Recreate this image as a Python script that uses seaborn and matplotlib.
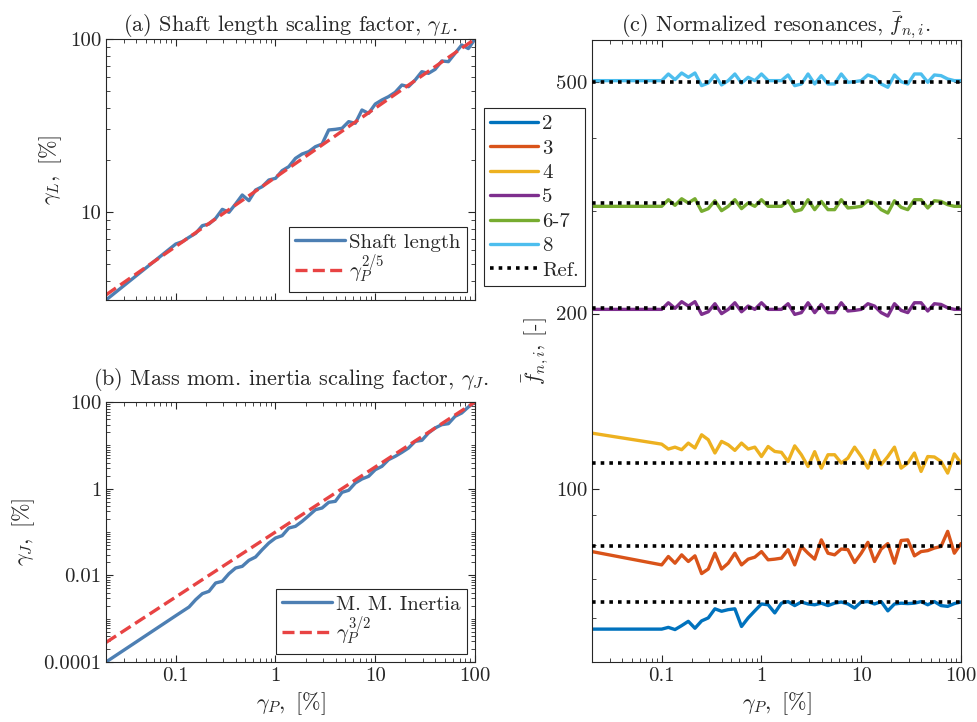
import seaborn as sns
import matplotlib.pyplot as plt
from matplotlib.ticker import FixedLocator, NullFormatter, LogLocator

# power scaling factor gamma_P [%] (shared x for every curve)
gamma_p = [0.02, 0.1, 0.1166, 0.1359, 0.1585, 0.1848, 0.2154, 0.2512, 0.2929, 0.3415, 0.3981,
           0.4642, 0.5412, 0.631, 0.7356, 0.8577, 1.0, 1.166, 1.359, 1.585, 1.848, 2.154,
           2.512, 2.929, 3.415, 3.981, 4.642, 5.412, 6.31, 7.356, 8.577, 10.0, 11.66, 13.59,
           15.85, 18.48, 21.54, 25.12, 29.29, 34.15, 39.81, 46.42, 54.12, 63.1, 73.56, 85.77, 100.0]

# (a) shaft length scaling factor [%]
shaft_length = [3.10, 6.53, 6.74, 7.14, 7.53, 8.34, 8.52, 9.19, 10.36, 9.96, 11.13, 12.54, 11.63,
                13.40, 14.01, 15.31, 15.65, 17.34, 18.28, 20.42, 21.64, 22.33, 23.85, 24.71,
                29.79, 30.05, 30.46, 33.29, 32.56, 38.86, 37.17, 42.08, 44.41, 46.42, 49.18,
                54.20, 53.01, 57.94, 64.72, 63.30, 66.77, 74.61, 73.96, 82.64, 92.32, 88.0, 100.0]

# (b) mass moment of inertia scaling factor [%]
inertia = [0.0001, 0.00117, 0.001476, 0.001858, 0.002745, 0.003776, 0.004276, 0.006658,
           0.007278, 0.01092, 0.01476, 0.01614, 0.02219, 0.02649, 0.03909, 0.05572, 0.07278,
           0.08231, 0.1236, 0.1352, 0.1762, 0.2383, 0.3273, 0.3581, 0.4842, 0.5105, 0.8225,
           0.9162, 1.352, 1.671, 1.926, 2.742, 3.276, 4.668, 5.576, 6.887, 8.675, 12.36, 13.03,
           19.27, 25.12, 29.99, 31.62, 46.68, 55.76, 76.65, 100.0]

# power laws (end points of the straight log-log lines)
law_x = [0.02, 100.0]
law_L = [3.32, 100.0]
law_J = [0.000283, 100.0]

# (c) normalized resonances
modes = ['2', '3', '4', '5', '6-7', '8']
res_2 = [57.4, 57.4, 57.8, 57.3, 58.2, 59.2, 57.6, 59.3, 60.0, 62.2, 61.6, 62.0, 62.2, 58.0, 60.0,
         61.7, 63.4, 63.2, 61.2, 63.6, 64.0, 63.0, 63.9, 63.4, 63.2, 63.6, 63.0, 63.6, 63.9, 63.4,
         62.4, 63.9, 64.0, 63.4, 64.0, 61.7, 63.4, 63.6, 63.5, 63.6, 64.0, 63.2, 64.0, 63.0, 62.8,
         63.5, 63.9]
res_3 = [78.0, 74.0, 76.5, 74.5, 77.0, 75.0, 76.7, 71.5, 72.8, 77.5, 72.8, 74.5, 77.5, 74.0, 75.7,
         76.3, 78.0, 75.5, 75.7, 76.0, 78.6, 74.0, 79.6, 77.5, 75.7, 81.7, 77.5, 77.0, 78.8, 78.6,
         74.7, 77.5, 80.9, 75.0, 78.8, 80.5, 74.5, 81.5, 81.7, 76.7, 78.0, 78.3, 79.1, 79.6, 84.5,
         77.5, 80.5]
res_4 = [124.6, 119.3, 117.0, 117.9, 116.7, 119.8, 117.5, 123.8, 121.4, 115.2, 120.6, 119.0, 116.4,
         119.8, 117.0, 117.9, 113.6, 118.2, 115.9, 115.5, 111.4, 118.5, 114.4, 109.2, 115.8, 108.5,
         114.4, 114.4, 110.7, 112.9, 117.9, 113.6, 108.5, 116.4, 110.0, 113.6, 117.9, 108.5, 110.7,
         115.2, 107.1, 113.6, 113.4, 111.4, 106.4, 114.8, 110.7]
res_5 = [203.3, 203.3, 208.7, 204.1, 209.6, 206.0, 209.6, 199.3, 201.4, 207.9, 199.9, 203.3, 208.7,
         201.4, 206.0, 203.3, 208.7, 203.3, 203.3, 203.3, 207.9, 199.3, 200.7, 208.7, 200.7, 207.3,
         200.7, 200.7, 208.7, 202.0, 202.5, 203.3, 207.9, 206.0, 200.7, 198.0, 207.9, 202.5, 200.7,
         208.7, 208.7, 202.0, 207.9, 207.3, 204.6, 203.3, 203.3]
res_67 = [305.6, 305.6, 313.7, 306.8, 314.9, 309.7, 314.9, 299.6, 302.8, 312.4, 300.4, 305.6, 313.7,
          302.8, 309.7, 305.6, 313.7, 305.6, 305.6, 305.6, 312.4, 299.6, 301.6, 313.7, 301.6, 311.6,
          301.6, 301.6, 313.7, 303.6, 304.4, 305.6, 312.4, 309.7, 301.6, 297.6, 312.4, 304.4, 301.6,
          313.7, 313.7, 303.6, 312.4, 311.6, 307.6, 305.6, 305.6]
res_8 = [502.4, 502.4, 515.8, 504.3, 517.8, 509.1, 517.8, 492.5, 497.7, 513.8, 493.9, 502.4, 515.8,
         497.7, 509.1, 502.4, 515.8, 502.4, 502.4, 502.4, 513.8, 492.5, 495.8, 515.8, 495.8, 512.4,
         495.8, 495.8, 515.8, 499.1, 500.4, 502.4, 513.8, 509.1, 495.8, 489.4, 513.8, 500.4, 495.8,
         515.8, 515.8, 499.1, 513.8, 512.4, 505.7, 502.4, 502.4]
ref_values = [63.9, 79.9, 110.7, 204.1, 309.7, 500.0]

mode_colors = ['#0072BD', '#D95319', '#EDB120', '#7E2F8E', '#77AC30', '#4DBEEE']
blue = '#4d7fb3'
red = '#e84343'
ink = '#262626'

sns.set_theme(style='ticks')
plt.rcParams.update({
    'font.family': 'serif',
    'font.serif': ['cmr10', 'DejaVu Serif'],
    'mathtext.fontset': 'cm',
    'axes.formatter.use_mathtext': True,
    'axes.unicode_minus': False,
    'font.size': 15,
    'axes.edgecolor': ink,
    'axes.linewidth': 0.8,
    'xtick.color': ink,
    'ytick.color': ink,
    'text.color': ink,
    'axes.labelcolor': ink,
})


def style_axis(ax):
    ax.set_xscale('log')
    ax.set_yscale('log')
    ax.tick_params(which='both', direction='in', top=True, right=True, labelsize=15)
    ax.tick_params(which='major', length=5, width=0.8)
    ax.tick_params(which='minor', length=3, width=0.6)
    ax.set_xlim(0.02, 100)
    ax.xaxis.set_major_locator(FixedLocator([0.1, 1, 10, 100]))
    ax.xaxis.set_minor_locator(LogLocator(base=10, subs=range(2, 10), numticks=20))
    ax.xaxis.set_minor_formatter(NullFormatter())
    ax.set_xticklabels(['0.1', '1', '10', '100'])


def legend_box(ax, **kw):
    leg = ax.legend(fancybox=False, framealpha=1, edgecolor=ink, fontsize=15,
                    borderpad=0.3, handletextpad=0.2, **kw)
    leg.get_frame().set_linewidth(0.8)
    return leg


fig = plt.figure(figsize=(9.78, 7.22), dpi=100)

# (a) shaft length
ax1 = fig.add_axes([0.1084, 0.5845, 0.3773, 0.3615])
sns.lineplot(x=gamma_p, y=shaft_length, color=blue, lw=2.4, label='Shaft length', ax=ax1)
sns.lineplot(x=law_x, y=law_L, color=red, lw=2.4, linestyle=(0, (3.6, 1.6)),
             label=r'$\gamma_P^{2/5}$', ax=ax1)
style_axis(ax1)
ax1.set_ylim(3.1, 100)
ax1.yaxis.set_major_locator(FixedLocator([10, 100]))
ax1.set_yticklabels(['10', '100'])
ax1.yaxis.set_minor_locator(LogLocator(base=10, subs=range(2, 10), numticks=20))
ax1.yaxis.set_minor_formatter(NullFormatter())
ax1.tick_params(labelbottom=False)
ax1.set_title(r'(a) Shaft length scaling factor, $\gamma_L$.', fontsize=16, pad=5)
ax1.set_ylabel(r'$\gamma_L,\ [\%]$', fontsize=16)
legend_box(ax1, loc='lower right', handlelength=2.4, labelspacing=0.05, borderaxespad=0.4)

# (b) mass moment of inertia
ax2 = fig.add_axes([0.1084, 0.0831, 0.3773, 0.3601])
sns.lineplot(x=gamma_p, y=inertia, color=blue, lw=2.4, label='M. M. Inertia', ax=ax2)
sns.lineplot(x=law_x, y=law_J, color=red, lw=2.4, linestyle=(0, (3.6, 1.6)),
             label=r'$\gamma_P^{3/2}$', ax=ax2)
style_axis(ax2)
ax2.set_ylim(1e-4, 100)
ax2.yaxis.set_major_locator(FixedLocator([1e-4, 1e-2, 1, 100]))
ax2.set_yticklabels(['0.0001', '0.01', '1', '100'])
ax2.yaxis.set_minor_locator(LogLocator(base=10, subs=range(1, 10), numticks=20))
ax2.yaxis.set_minor_formatter(NullFormatter())
ax2.set_title(r'(b) Mass mom. inertia scaling factor, $\gamma_J$.', fontsize=16, pad=12)
ax2.set_ylabel(r'$\gamma_J,\ [\%]$', fontsize=16)
ax2.set_xlabel(r'$\gamma_P,\ [\%]$', fontsize=16)
legend_box(ax2, loc='lower right', handlelength=2.4, labelspacing=0.05, borderaxespad=0.4)

# (c) normalized resonances
ax3 = fig.add_axes([0.6053, 0.0831, 0.3773, 0.8615])
for name, vals, col in zip(modes, [res_2, res_3, res_4, res_5, res_67, res_8], mode_colors):
    sns.lineplot(x=gamma_p, y=vals, color=col, lw=2.4, label=name, ax=ax3)
for i, r in enumerate(ref_values):
    ax3.axhline(r, color='black', lw=2.6, linestyle=(0, (1, 1.4)), zorder=5,
                label='Ref.' if i == 0 else None)
style_axis(ax3)
ax3.set_ylim(50.4, 590)
ax3.yaxis.set_major_locator(FixedLocator([100, 200, 500]))
ax3.set_yticklabels(['100', '200', '500'])
ax3.yaxis.set_minor_locator(FixedLocator([60, 70, 80, 90, 300, 400]))
ax3.yaxis.set_minor_formatter(NullFormatter())
ax3.set_title(r'(c) Normalized resonances, $\bar{f}_{n,i}$.', fontsize=16, pad=5)
ax3.set_ylabel(r'$\bar{f}_{n,i}$, [-]', fontsize=16)
ax3.set_xlabel(r'$\gamma_P,\ [\%]$', fontsize=16)
legend_box(ax3, loc='upper left', bbox_to_anchor=(0.495, 0.850), bbox_transform=fig.transFigure,
           borderaxespad=0, handlelength=2.3, labelspacing=0.28)

plt.savefig('out.png', dpi=100)
